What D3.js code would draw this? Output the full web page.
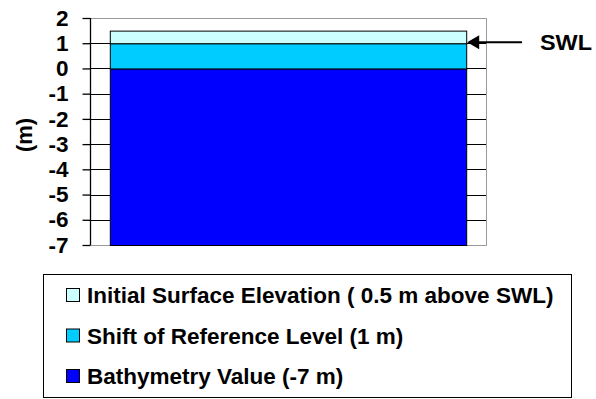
<!DOCTYPE html>
<html>
<head>
<meta charset="utf-8">
<script src="https://cdn.jsdelivr.net/npm/d3@7"></script>
<style>
  body { margin: 0; background: #fff; }
  svg { display: block; font-family: "Liberation Sans", Arial, sans-serif; font-weight: bold; }
</style>
</head>
<body>
<div id="chart"></div>
<script>
// single category, stacked layers (bottom -> top)
const categories = ["Profile"];
const seriesNames = [
  "Bathymetry Value (-7 m)",
  "Shift of Reference Level (1 m)",
  "Initial Surface Elevation ( 0.5 m above SWL)"
];
const seriesValues = [-7, 1, 0.5]; // bathymetry below 0, the rest stacked above 0
const seriesColors = ["#0000FF", "#00CCFF", "#CCFFFF"];
const yTicks = [2, 1, 0, -1, -2, -3, -4, -5, -6, -7];
const swlLevel = 1;
const yLabel = "(m)";
const markerLabel = "SWL";

const W = 596, H = 399;
const plot = { left: 90, right: 486, top: 18, bottom: 245 };

const svg = d3.select("#chart").append("svg")
  .attr("width", W)
  .attr("height", H);

const x = d3.scaleBand()
  .domain(categories)
  .range([plot.left, plot.right])
  .paddingInner(0.1)
  .paddingOuter(0.045);

const y = d3.scaleLinear()
  .domain([-7, 2])
  .range([plot.bottom, plot.top]);

// stack: negative value goes from 0 down, positives pile up from 0
const layers = [];
let posBase = 0;
seriesValues.forEach((v, i) => {
  if (v < 0) layers.push({ i, y0: v, y1: 0 });
  else { layers.push({ i, y0: posBase, y1: posBase + v }); posBase += v; }
});

// gridlines (black, mostly hidden behind the bar)
svg.append("g")
  .selectAll("line")
  .data(yTicks.filter(t => t !== 2 && t !== -7))
  .join("line")
  .attr("x1", plot.left).attr("x2", plot.right)
  .attr("y1", d => Math.round(y(d)) + 0.5).attr("y2", d => Math.round(y(d)) + 0.5)
  .attr("stroke", "#000");

// plot border (grey top / right / bottom)
svg.append("path")
  .attr("d", `M${plot.left},${plot.top + 0.5}H${plot.right + 0.5}V${plot.bottom + 0.5}H${plot.left}`)
  .attr("fill", "none")
  .attr("stroke", "#999");

// bars
svg.append("g")
  .selectAll("rect")
  .data(layers)
  .join("rect")
  .attr("x", x(categories[0]) + 0.5)
  .attr("width", x.bandwidth())
  .attr("y", d => y(d.y1) + 0.5)
  .attr("height", d => y(d.y0) - y(d.y1))
  .attr("fill", d => seriesColors[d.i])
  .attr("stroke", "#000")
  .attr("stroke-width", 1);

// y axis
const gy = svg.append("g")
  .attr("transform", `translate(${plot.left + 0.5},0)`)
  .call(d3.axisLeft(y).tickValues(yTicks).tickSize(8).tickPadding(14).tickFormat(d3.format("d")));
gy.select(".domain").attr("stroke", "#000").attr("stroke-width", 1.3).attr("d", `M0,${plot.top}V${plot.bottom}`);
gy.selectAll(".tick line").attr("stroke", "#000").attr("stroke-width", 1.3);
gy.selectAll(".tick text")
  .attr("fill", "#000")
  .attr("font-size", 22.5)
  .attr("font-family", "Liberation Sans, Arial, sans-serif")
  .attr("font-weight", "bold")
  .text(d => d < 0 ? "-" + Math.abs(d) : String(d));

// axis title
svg.append("text")
  .attr("transform", `translate(32,135) rotate(-90)`)
  .attr("text-anchor", "middle")
  .attr("font-size", 22)
  .text(yLabel);

// SWL marker
const ySwl = y(swlLevel) - 1;
const barRight = x(categories[0]) + x.bandwidth() + 1;
svg.append("path")
  .attr("d", `M${barRight},${ySwl} L${barRight + 12},${ySwl - 7} L${barRight + 12},${ySwl + 7} Z`)
  .attr("fill", "#000");
svg.append("line")
  .attr("x1", barRight + 10).attr("x2", 522)
  .attr("y1", ySwl).attr("y2", ySwl)
  .attr("stroke", "#000").attr("stroke-width", 2);
svg.append("text")
  .attr("x", 540)
  .attr("y", ySwl + 8)
  .attr("font-size", 22)
  .attr("textLength", 52)
  .attr("lengthAdjust", "spacingAndGlyphs")
  .text(markerLabel);

// legend (top entry first, as stacked)
const legend = svg.append("g");
legend.append("rect")
  .attr("x", 43.5).attr("y", 274.5)
  .attr("width", 528).attr("height", 123)
  .attr("fill", "#fff")
  .attr("stroke", "#000");

const legendOrder = [2, 1, 0];
const rows = legend.selectAll("g.row")
  .data(legendOrder)
  .join("g")
  .attr("class", "row")
  .attr("transform", (d, k) => `translate(66,${295 + k * 40.5})`);
rows.append("rect")
  .attr("x", 0.5).attr("y", -6.5)
  .attr("width", 13).attr("height", 13)
  .attr("fill", d => seriesColors[d])
  .attr("stroke", "#000");
rows.append("text")
  .attr("x", 21)
  .attr("y", 8)
  .attr("font-size", 22.5)
  .text(d => seriesNames[d]);
</script>
</body>
</html>
